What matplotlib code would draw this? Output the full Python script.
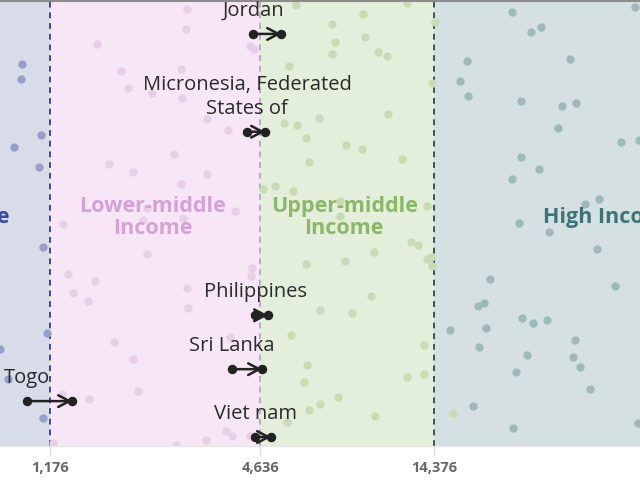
import numpy as np
import matplotlib
matplotlib.use("Agg")
import matplotlib.pyplot as plt

# ---- data ----
thresholds = [1176, 4636, 14376]
tick_labels = ["1,176", "4,636", "14,376"]
band_names = ["Low Income", "Lower-middle\nIncome", "Upper-middle\nIncome", "High Income"]

countries = ["Jordan", "Micronesia, Federated\nStates of", "Philippines", "Sri Lanka", "Togo", "Viet nam"]
gni_start = [4421, 4251, 4479, 3855, 1012, 4479]
gni_end = [5309, 4780, 4875, 4688, 1358, 4972]
country_pos = [33, 131, 315, 369, 401, 437]

# background dots: log10 GNI and vertical jitter position
low_log = [2.991, 2.988, 3.045, 2.969, 3.039, 3.051, 3.062, 2.929, 2.952, 3.051]
low_pos = [63, 78, 134, 146, 166, 247, 333, 349, 379, 418]

lm_log = [3.204, 3.272, 3.292, 3.360, 3.238, 3.306, 3.108, 3.334, 3.345, 3.459, 3.456,
          3.442, 3.445, 3.422, 3.442, 3.515, 3.515, 3.575, 3.595, 3.447, 3.637, 3.649,
          3.345, 3.122, 3.198, 3.136, 3.178, 3.252, 3.306, 3.320, 3.181, 3.105, 3.079,
          3.643, 3.640, 3.459, 3.462, 3.581, 3.428, 3.513, 3.569, 3.586, 3.637]
lm_pos = [43, 70, 87, 92, 163, 171, 223, 219, 207, 8, 28,
          68, 97, 153, 183, 173, 118, 129, 210, 217, 45, 48,
          254, 274, 281, 293, 301, 342, 359, 391, 399, 394, 443,
          268, 276, 288, 308, 337, 445, 440, 431, 436, 436]

um_log = [3.768, 3.748, 3.833, 3.734, 3.770, 3.796, 3.804, 3.708, 3.759, 3.674, 4.082,
          3.957, 3.870, 3.963, 3.878, 3.870, 4.000, 4.025, 4.153, 4.028, 3.909, 3.955,
          4.068, 4.139, 3.892, 3.892, 4.093, 4.113, 3.989, 3.906, 4.139, 4.150, 4.153,
          3.980, 3.926, 3.836, 4.130, 4.082, 4.130, 3.887, 3.834, 3.991, 3.796, 3.753,
          3.799, 3.790, 3.804, 3.742, 4.162, 4.212]
um_pos = [4, 65, 117, 122, 124, 137, 161, 185, 190, 188, 2,
          13, 23, 36, 41, 53, 51, 55, 82, 113, 144, 148,
          158, 205, 200, 215, 242, 245, 252, 261, 259, 257, 266,
          296, 313, 310, 345, 377, 374, 397, 404, 416, 264, 335,
          365, 382, 410, 422, 21, 413]

hi_log = [4.379, 4.728, 4.433, 4.462, 4.252, 4.544, 4.232, 4.255, 4.405, 4.521, 4.561,
          4.510, 4.688, 4.739, 4.405, 4.456, 4.379, 4.586, 4.626, 4.399, 4.484, 4.620,
          4.671, 4.317, 4.283, 4.300, 4.204, 4.306, 4.286, 4.408, 4.439, 4.479, 4.558,
          4.422, 4.552, 4.572, 4.391, 4.600, 4.269, 4.382, 4.736]
hi_pos = [11, 6, 31, 26, 60, 58, 80, 95, 100, 105, 102,
          127, 141, 139, 156, 168, 178, 203, 198, 222, 232, 249,
          286, 279, 306, 303, 330, 328, 347, 318, 323, 320, 340,
          355, 357, 367, 372, 389, 406, 428, 423]

# ---- style ----
FONT = "Open Sans"
band_bg = ["#d8dce9", "#f6e6f6", "#e3efda", "#d5e0e2"]
dot_col = ["#97a0cc", "#e8cfe8", "#c8dbb2", "#9fb9ba"]
label_col = ["#3a4aa0", "#d5a2d5", "#8bb868", "#3d7577"]
line_col = ["#3b4a8f", "#c7a3c7", "#2f5a5a"]

fig = plt.figure(figsize=(6.4, 4.8), dpi=100)
ax = fig.add_axes([0, 34 / 480, 1, 445 / 480])
xmin, xmax = 10 ** 2.9288, 10 ** 4.7418
ax.set_xscale("log")
ax.set_xlim(xmin, xmax)
ax.set_ylim(446, 0)

edges = [xmin] + thresholds + [xmax]
for i in range(4):
    ax.axvspan(edges[i], edges[i + 1], color=band_bg[i], lw=0, zorder=0)
for t, c in zip(thresholds, line_col):
    ax.axvline(t, color=c, lw=1.4, ls=(0, (3, 2.5)), zorder=1)

for lg, ps, c in zip([low_log, lm_log, um_log, hi_log], [low_pos, lm_pos, um_pos, hi_pos], dot_col):
    ax.scatter(10 ** np.array(lg), ps, s=36, color=c, lw=0, zorder=2)

# band labels
ax.text(10 ** 2.957, 217, band_names[0], ha="right", va="center", fontsize=15.5,
        fontweight="bold", color=label_col[0], family=FONT, zorder=3)
ax.text(10 ** 3.362, 217, band_names[1], ha="center", va="center", fontsize=15.5,
        fontweight="bold", color=label_col[1], family=FONT, linespacing=1.1, zorder=3)
ax.text(10 ** 3.904, 217, band_names[2], ha="center", va="center", fontsize=15.5,
        fontweight="bold", color=label_col[2], family=FONT, linespacing=1.1, zorder=3)
ax.text(10 ** 4.467, 217, band_names[3], ha="left", va="center", fontsize=15.5,
        fontweight="bold", color=label_col[3], family=FONT, zorder=3)

# arrows
for name, s, e, y in zip(countries, gni_start, gni_end, country_pos):
    ax.annotate("", xy=(e, y), xytext=(s, y),
                arrowprops=dict(arrowstyle="->,head_length=0.8,head_width=0.42",
                                lw=1.8, color="#222222", shrinkA=0, shrinkB=0),
                zorder=4)
    ax.plot([s, e], [y, y], "o", color="#222222", ms=5.8, zorder=5)
    ax.annotate(name, xy=(s, y), xytext=(0, 18), textcoords="offset pixels",
                ha="center", va="baseline", fontsize=14.5, color="#2a2a2a",
                family=FONT, linespacing=1.22, zorder=6)

# axes decoration
for side in ["left", "right"]:
    ax.spines[side].set_visible(False)
ax.spines["top"].set_color("#8c8c8c")
ax.spines["top"].set_linewidth(1.5)
ax.spines["bottom"].set_color("#e8e8e8")
ax.spines["bottom"].set_linewidth(1)
ax.set_yticks([])
ax.set_xticks(thresholds)
ax.set_xticklabels(tick_labels, fontsize=10.5, fontweight="bold", color="#666666", family=FONT)
ax.xaxis.set_minor_locator(matplotlib.ticker.NullLocator())
ax.tick_params(axis="x", length=7, width=1, color="#dddddd", pad=4)

fig.savefig("out.png", dpi=100)
